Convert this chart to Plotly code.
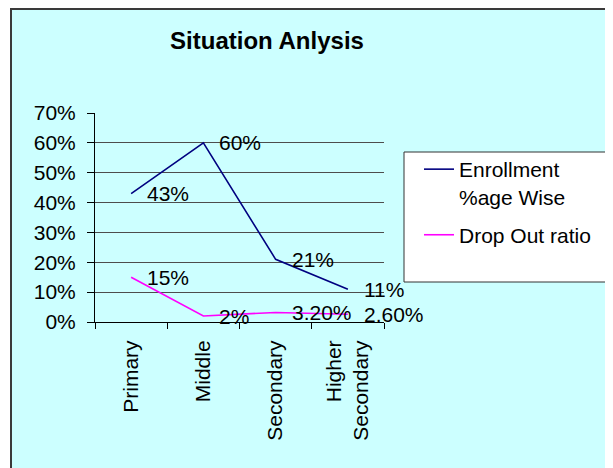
import plotly.graph_objects as go

# ---- data ----
categories = ["Primary", "Middle", "Secondary", "Higher<br>Secondary"]
enrollment = [0.43, 0.60, 0.21, 0.11]
dropout = [0.15, 0.02, 0.032, 0.026]
enrollment_labels = ["43%", "60%", "21%", "11%"]
dropout_labels = ["15%", "2%", "3.20%", "2.60%"]
series_names = ["Enrollment<br>%age Wise", "Drop Out ratio"]
y_ticks = [0, 0.1, 0.2, 0.3, 0.4, 0.5, 0.6, 0.7]

OFF = 8  # page body margin
W, H = 613 - OFF, 468 - OFF
L, R, T, B = 95 - OFF, 229, 113 - OFF, 146
PW, PH = W - L - R, H - T - B
FONT = "Liberation Sans, Arial, sans-serif"
BG = "#CCFFFF"


def px(x):  # screen x -> paper
    return (x - OFF - L) / PW


def py(y):  # screen y -> paper
    return 1 - (y - OFF - T) / PH


fig = go.Figure()
fig.add_trace(go.Scatter(x=categories, y=enrollment, mode="lines", name=series_names[0],
                         legendgroup="a", line=dict(color="#000080", width=1.6)))
fig.add_trace(go.Scatter(x=categories, y=dropout, mode="lines", name=series_names[1],
                         legendgroup="b", line=dict(color="#FF00FF", width=1.6)))

annotations = []
for vals, labs in ((enrollment, enrollment_labels), (dropout, dropout_labels)):
    for c, v, t in zip(categories, vals, labs):
        annotations.append(dict(x=c, y=v, xref="x", yref="y", text=t, showarrow=False,
                                xanchor="left", yanchor="middle", xshift=14,
                                font=dict(family=FONT, size=21, color="black")))

shapes = [
    # white strip left of the chart border
    dict(type="rect", xref="paper", yref="paper", x0=px(0), x1=px(10), y0=py(480), y1=py(-10),
         fillcolor="white", line=dict(width=0), layer="below"),
    # chart border (top and left)
    dict(type="line", xref="paper", yref="paper", x0=px(11), x1=px(11), y0=py(OFF), y1=py(480),
         line=dict(color="#3a3a3a", width=2)),
    dict(type="line", xref="paper", yref="paper", x0=px(10), x1=px(620), y0=py(OFF + 1), y1=py(OFF + 1),
         line=dict(color="#3a3a3a", width=2)),
    # legend box
    dict(type="rect", xref="paper", yref="paper", x0=px(404), x1=px(608), y0=py(282), y1=py(152),
         fillcolor="white", line=dict(color="#333333", width=1), layer="below"),
]

fig.update_layout(
    width=W, height=H,
    margin=dict(l=L, r=R, t=T, b=B, pad=0),
    paper_bgcolor=BG, plot_bgcolor=BG,
    font=dict(family=FONT, size=21, color="black"),
    title=dict(text="<b>Situation Anlysis</b>", x=px(267), xanchor="center",
               xref="paper", yref="container", y=1 - (41 - OFF) / H, yanchor="middle",
               font=dict(family=FONT, size=24, color="black")),
    xaxis=dict(type="category", categoryorder="array", categoryarray=categories,
               range=[-0.5, len(categories) - 0.5], showgrid=False, zeroline=False,
               showline=True, linecolor="black", linewidth=1,
               ticks="outside", tickson="boundaries", ticklen=6, tickcolor="black",
               tickangle=-90, ticklabelstandoff=9,
               tickfont=dict(family=FONT, size=21)),
    yaxis=dict(range=[0, 0.7], tickvals=y_ticks, tickformat=".0%",
               showgrid=True, gridcolor="#4d4d4d", gridwidth=1, zeroline=False,
               showline=True, linecolor="black", linewidth=1,
               ticks="outside", ticklen=7, tickcolor="black", ticklabelstandoff=7,
               tickfont=dict(family=FONT, size=21)),
    legend=dict(x=px(419), y=py(149), xanchor="left", yanchor="top", valign="top",
                bgcolor="rgba(0,0,0,0)", borderwidth=0,
                font=dict(family=FONT, size=21), tracegroupgap=8),
    showlegend=True,
    annotations=annotations,
    shapes=shapes,
)

fig.write_html("out.html")
